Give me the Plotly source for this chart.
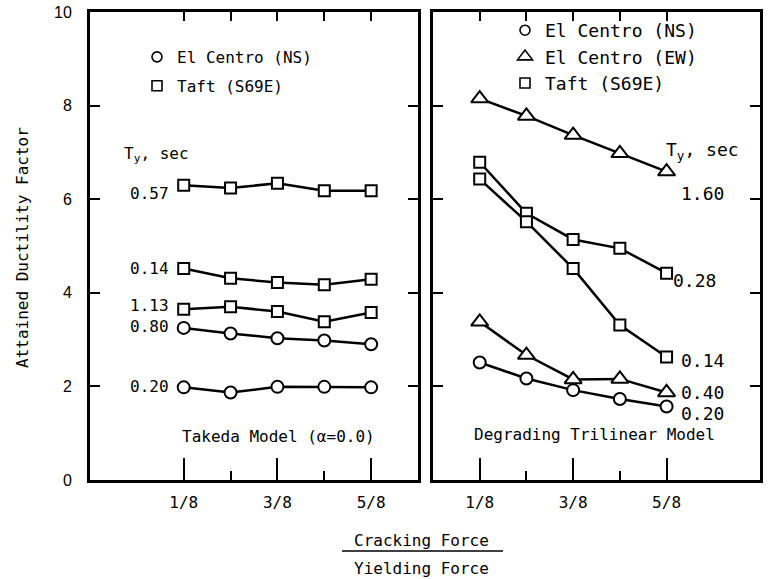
import plotly.graph_objects as go

# x positions in eighths (Cracking Force / Yielding Force)
x_eighths = [1, 2, 3, 4, 5]
x_tick_vals = [1, 3, 5]
x_tick_text = ["1/8", "3/8", "5/8"]

# Takeda Model (alpha=0.0)
takeda_taft_057 = [6.30, 6.24, 6.34, 6.18, 6.18]
takeda_taft_014 = [4.52, 4.31, 4.22, 4.17, 4.29]
takeda_taft_113 = [3.65, 3.70, 3.60, 3.38, 3.58]
takeda_ns_080 = [3.25, 3.13, 3.03, 2.98, 2.90]
takeda_ns_020 = [1.98, 1.87, 1.99, 1.99, 1.98]

# Degrading Trilinear Model
dtm_ew_160 = [8.15, 7.78, 7.37, 6.98, 6.59]
dtm_taft_028 = [6.79, 5.70, 5.14, 4.95, 4.42]
dtm_taft_014 = [6.43, 5.52, 4.52, 3.31, 2.63]
dtm_ew_040 = [3.38, 2.67, 2.15, 2.16, 1.87]
dtm_ns_020 = [2.51, 2.17, 1.92, 1.73, 1.57]

MONO = "DejaVu Sans Mono, Liberation Mono, monospace"
SANS = "Liberation Sans Narrow, Liberation Sans, Arial, sans-serif"

markers = {
    "circle": dict(symbol="circle", size=12),
    "triangle": dict(symbol="triangle-up", size=15),
    "square": dict(symbol="square", size=11),
}

def series(x, y, kind, xa, ya):
    m = dict(markers[kind])
    m.update(color="white", line=dict(color="black", width=2))
    return go.Scatter(x=x, y=y, mode="lines+markers", xaxis=xa, yaxis=ya,
                      line=dict(color="black", width=2.5), marker=m,
                      showlegend=False, hoverinfo="skip")

fig = go.Figure()
for y, k in [(takeda_taft_057, "square"), (takeda_taft_014, "square"),
             (takeda_taft_113, "square"), (takeda_ns_080, "circle"),
             (takeda_ns_020, "circle")]:
    fig.add_trace(series(x_eighths, y, k, "x", "y"))
for y, k in [(dtm_ew_160, "triangle"), (dtm_taft_028, "square"),
             (dtm_taft_014, "square"), (dtm_ew_040, "triangle"),
             (dtm_ns_020, "circle")]:
    fig.add_trace(series(x_eighths, y, k, "x2", "y2"))

# legend entries
def leg(name, kind, legend, group):
    m = dict(markers[kind])
    m.update(color="white", line=dict(color="black", width=1.6))
    m["size"] = 13 if kind == "triangle" else 10
    return go.Scatter(x=[None], y=[None], mode="markers", name=name, marker=m,
                      legend=legend, legendgroup=group,
                      xaxis="x" if legend == "legend" else "x2",
                      yaxis="y" if legend == "legend" else "y2", hoverinfo="skip")

fig.add_trace(leg("El Centro (NS)", "circle", "legend", "a"))
fig.add_trace(leg("Taft (S69E)", "square", "legend", "b"))
fig.add_trace(leg("El Centro (NS)", "circle", "legend2", "c"))
fig.add_trace(leg("El Centro (EW)", "triangle", "legend2", "c"))
fig.add_trace(leg("Taft (S69E)", "square", "legend2", "c"))

# dummy traces for top tick axes
fig.add_trace(go.Scatter(x=[None], y=[None], xaxis="x3", yaxis="y", showlegend=False, hoverinfo="skip"))
fig.add_trace(go.Scatter(x=[None], y=[None], xaxis="x4", yaxis="y2", showlegend=False, hoverinfo="skip"))

dom_y = [1 - 480 / 579, 1 - 12 / 579]
dom_x1 = [90 / 772, 418 / 772]
dom_x2 = [433 / 772, 760 / 772]

def xbottom(domain, rng, anchor):
    return dict(domain=domain, range=rng, anchor=anchor, showline=True, linewidth=3,
                linecolor="black", mirror=True, ticks="inside", ticklen=22, tickwidth=2,
                tickcolor="black", tickvals=x_tick_vals, ticktext=x_tick_text,
                tickfont=dict(family=MONO, size=16, color="black"), ticklabelstandoff=6,
                showgrid=False, zeroline=False, automargin=False,
                minor=dict(tickvals=[2, 4], ticks="inside", ticklen=9, tickwidth=2,
                           tickcolor="black", showgrid=False))

def xtop(over, rng, anchor):
    return dict(overlaying=over, side="top", range=rng, anchor=anchor, showline=False,
                ticks="inside", ticklen=9, tickwidth=2, tickcolor="black",
                tickvals=x_eighths, showticklabels=False, showgrid=False, zeroline=False,
                automargin=False)

fig.update_layout(
    width=772, height=579, margin=dict(l=0, r=0, t=0, b=0, autoexpand=False),
    paper_bgcolor="white", plot_bgcolor="white",
    xaxis=xbottom(dom_x1, [-1, 6], "y"),
    xaxis2=xbottom(dom_x2, [0, 7], "y2"),
    xaxis3=xtop("x", [-1, 6], "y"),
    xaxis4=xtop("x2", [0, 7], "y2"),
    yaxis=dict(domain=dom_y, range=[0, 10], anchor="x", showline=True, linewidth=3,
               linecolor="black", mirror="ticks", ticks="inside", ticklen=10, tickwidth=2,
               tickcolor="black", tickvals=[0, 2, 4, 6, 8, 10],
               tickfont=dict(family=SANS, size=16, color="black"), ticklabelstandoff=12,
               showgrid=False, zeroline=False, automargin=False),
    yaxis2=dict(domain=dom_y, range=[0, 10], anchor="x2", showline=True, linewidth=3,
                linecolor="black", mirror="ticks", ticks="inside", ticklen=10, tickwidth=2,
                tickcolor="black", tickvals=[0, 2, 4, 6, 8, 10], showticklabels=False,
                showgrid=False, zeroline=False, automargin=False),
    legend=dict(x=137 / 772, y=1 - 40 / 579, xanchor="left", yanchor="top",
                bgcolor="rgba(0,0,0,0)", font=dict(family=MONO, size=16, color="black"),
                tracegroupgap=5, itemwidth=30),
    legend2=dict(x=505 / 772, y=1 - 12 / 579, xanchor="left", yanchor="top",
                 bgcolor="rgba(0,0,0,0)", font=dict(family=MONO, size=18, color="black"),
                 tracegroupgap=0, itemwidth=30),
)

ann = []
def label(text, x, y, xref, yref, xanchor="left", size=16):
    ann.append(dict(text=text, x=x, y=y, xref=xref, yref=yref, xanchor=xanchor,
                    yanchor="middle", showarrow=False,
                    font=dict(family=MONO, size=size, color="black")))

# left panel labels
label("T<sub>y</sub>, sec", -0.32, 6.95, "x", "y")
label("0.57", 0.72, 6.13, "x", "y", "right")
label("0.14", 0.72, 4.53, "x", "y", "right")
label("1.13", 0.72, 3.72, "x", "y", "right")
label("0.80", 0.72, 3.29, "x", "y", "right")
label("0.20", 0.72, 1.99, "x", "y", "right")
label("Takeda Model (α=0.0)", 3.03, 0.92, "x", "y", "center")
# right panel labels
label("T<sub>y</sub>, sec", 4.95, 7.02, "x2", "y2", size=18)
label("1.60", 5.27, 6.13, "x2", "y2", size=18)
label("0.28", 5.10, 4.27, "x2", "y2", size=18)
label("0.14", 5.27, 2.56, "x2", "y2", size=18)
label("0.40", 5.27, 1.86, "x2", "y2", size=18)
label("0.20", 5.27, 1.43, "x2", "y2", size=18)
label("Degrading Trilinear Model", 3.45, 0.98, "x2", "y2", "center")

# axis titles
ann.append(dict(text="Attained Ductility Factor", x=22 / 772, y=1 - 248 / 579,
                xref="paper", yref="paper", xanchor="center", yanchor="middle",
                textangle=-90, showarrow=False,
                font=dict(family=MONO, size=16, color="black")))
ann.append(dict(text="Cracking Force", x=421 / 772, y=1 - 540 / 579, xref="paper",
                yref="paper", showarrow=False, xanchor="center", yanchor="middle",
                font=dict(family=MONO, size=16, color="black")))
ann.append(dict(text="Yielding Force", x=421 / 772, y=1 - 568 / 579, xref="paper",
                yref="paper", showarrow=False, xanchor="center", yanchor="middle",
                font=dict(family=MONO, size=16, color="black")))
fig.update_layout(annotations=ann)
fig.add_shape(type="line", xref="paper", yref="paper", x0=342 / 772, x1=503 / 772,
              y0=1 - 551 / 579, y1=1 - 551 / 579, line=dict(color="black", width=1.5))

fig.write_html("out.html")
